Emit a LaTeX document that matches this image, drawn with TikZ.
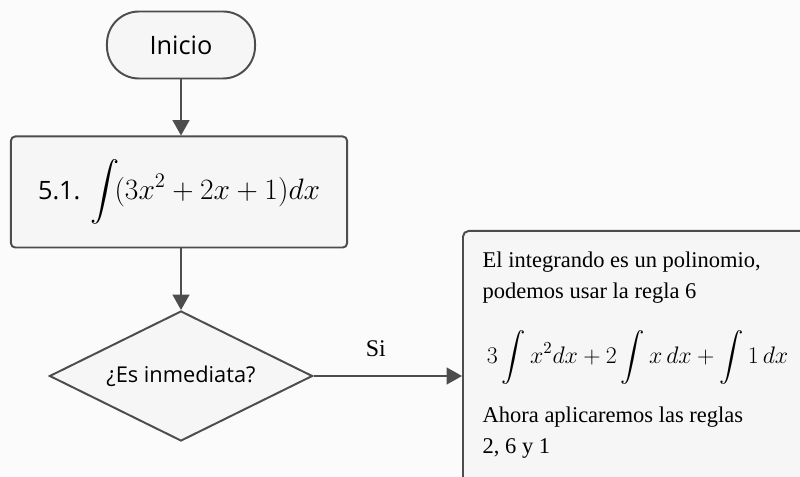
\RequirePackage{fix-cm}
\documentclass[tikz,border=0pt]{standalone}
\usepackage{amsmath}
\usepackage{exscale}
\usepackage{fontspec}
\setmainfont{Liberation Serif}
\setsansfont{Open Sans}
\usetikzlibrary{shapes.geometric,arrows.meta,positioning}
\definecolor{linea}{HTML}{4D4D4D}
\definecolor{relleno}{HTML}{F6F6F6}
\definecolor{fondo}{HTML}{FBFBFB}
\tikzset{
  caja/.style={draw=linea, line width=1.4pt, fill=relleno},
  flecha/.style={-{Triangle[length=11pt,width=12pt]}, draw=linea, fill=linea, line width=1.4pt}
}
\begin{document}
\begin{tikzpicture}[x=0.025cm, y=-0.025cm]
  \clip (0,0) rectangle (800,477);
  \fill[fondo] (0,0) rectangle (800,477);
  \draw
    (181,45) node[caja, rounded corners=0.8cm, minimum width=3.7cm, minimum height=1.675cm,
      font=\sffamily\fontsize{18}{22}\selectfont] (inicio) {Inicio}
    (179,192) node[caja, rounded corners=3pt, minimum width=8.4cm, minimum height=2.775cm] (paso)
      {\sffamily\fontsize{18}{22}\selectfont 5.1.\hspace{7pt}\fontsize{21}{25}\selectfont$\displaystyle\int\!(3x^2+2x+1)dx$}
    (181,376) node[caja, diamond, aspect=2, inner sep=0pt, minimum width=6.575cm, minimum height=3.25cm,
      font=\sffamily\fontsize{15.5}{18}\selectfont] (decision) {¿Es inmediata?}
    (462,230) node[caja, anchor=north west, rounded corners=4pt, inner xsep=14pt, inner ysep=0pt] (nota)
      {\parbox[t][8cm][t]{10cm}{\fontsize{16}{22}\selectfont\lineskiplimit=-100pt\lineskip=0pt
        \rule{0pt}{26pt}El integrando es un polinomio,\\
        podemos usar la regla 6\\[24pt]
        \hspace*{3pt}{\fontsize{17}{22}\selectfont$\displaystyle 3\int x^2dx+2\int x\,dx+\int 1\,dx$}\\[20pt]
        Ahora aplicaremos las reglas\\
        2, 6 y 1}};
  \begin{scope}[flecha]
    \draw (inicio.south) to (inicio.south |- paso.north);
    \draw (paso.south -| decision.north) to (decision.north);
    \draw (decision.east) to node[pos=0.42, above=13pt, inner sep=0pt, fill=none,
      font=\fontsize{17}{20}\selectfont] (si) {Si} (decision.east -| nota.west);
  \end{scope}
\end{tikzpicture}
\end{document}
